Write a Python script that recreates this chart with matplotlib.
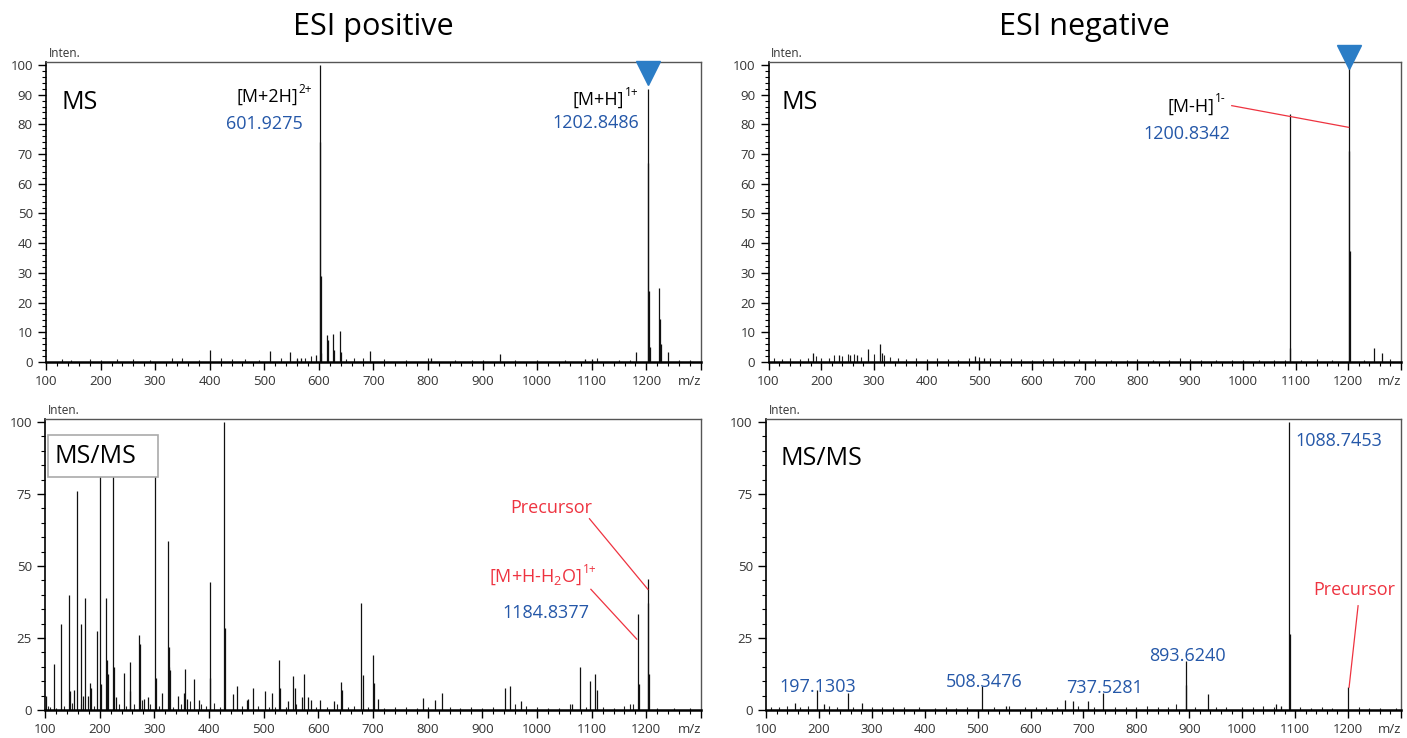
import numpy as np
import matplotlib.pyplot as plt
from matplotlib.ticker import MultipleLocator, FixedLocator
from matplotlib.patches import Rectangle

plt.rcParams['font.family'] = ['Open Sans', 'DejaVu Sans']
plt.rcParams['mathtext.fontset'] = 'custom'
plt.rcParams['mathtext.rm'] = 'Open Sans'
plt.rcParams['mathtext.default'] = 'regular'

BLUE = '#2457a8'
RED = '#ee3340'
TRI = '#2b7dc6'

# x axis ticks (last one carries the axis unit)
xticks = [100, 200, 300, 400, 500, 600, 700, 800, 900, 1000, 1100, 1200, 1300]
xtick_labels = ['100', '200', '300', '400', '500', '600', '700', '800', '900',
                '1000', '1100', '1200', 'm/z']

# ESI positive, MS
pos_ms_mz = [400, 511, 547, 560, 567, 594, 601.93, 602.43, 602.93, 603.4, 614, 617,
             625, 627, 638, 640, 693, 806, 932, 1088, 1100, 1181, 1202.85, 1203.85,
             1204.85, 1205.8, 1224, 1225, 1226, 1239]
pos_ms_int = [4, 3.6, 3.5, 1, 1.5, 2.5, 100, 74, 29, 3, 9, 7.5,
              9.5, 4, 10.4, 3.5, 3.6, 1.3, 2.6, 1, 1, 3.2, 92, 67,
              24, 5, 25, 14.5, 6, 3.5]
pos_ms_noise_mz = [130, 145, 180, 200, 230, 260, 290, 330, 350, 380, 420, 440, 465, 490,
                   530, 560, 575, 585, 650, 665, 680, 720, 760, 800, 850, 880, 900, 960,
                   1000, 1050, 1110, 1150, 1170, 1260, 1280]
pos_ms_noise_int = [1, 0.8, 1, 0.8, 1, 1, 0.8, 1.2, 1.3, 0.8, 1.5, 1, 1, 0.8,
                    1.2, 1.5, 1.2, 2, 1, 1.5, 1.2, 1, 0.6, 1.3, 0.7, 0.8, 0.6, 0.8,
                    0.6, 0.7, 1.2, 0.7, 0.8, 0.8, 0.6]

# ESI negative, MS
neg_ms_mz = [184, 234, 255, 267, 289, 312, 316, 492, 509, 1088.75, 1089.75,
             1200.83, 1201.83, 1202.84, 1248, 1264]
neg_ms_int = [3, 2.5, 2.5, 2.5, 4.5, 6.2, 3, 2, 1.5, 83.5, 4.8,
              100, 71, 37.5, 4.8, 3]
neg_ms_noise_mz = [110, 125, 140, 160, 175, 190, 200, 215, 225, 240, 250, 262, 275, 300,
                   320, 330, 345, 360, 380, 400, 420, 440, 460, 480, 500, 520, 540, 560,
                   580, 600, 620, 640, 660, 690, 720, 750, 780, 800, 830, 860, 880, 900,
                   920, 950, 980, 1000, 1030, 1060, 1080, 1110, 1140, 1170, 1230, 1280]
neg_ms_noise_int = [1.5, 1, 1.2, 1, 1.5, 2, 1.2, 1.5, 2.5, 2, 2.7, 2.8, 1.7, 2.8,
                    2.5, 1.8, 1.5, 1, 1.2, 1, 1.2, 1, 0.8, 1.5, 1.8, 1.4, 1, 1.2,
                    1, 0.8, 1, 1.2, 0.8, 0.9, 1, 0.8, 0.7, 0.9, 0.8, 0.8, 1.2, 1,
                    0.7, 0.8, 0.8, 0.8, 0.7, 0.8, 0.8, 0.8, 0.9, 0.7, 0.8, 0.9]

# ESI positive, MS/MS
pos_msms_mz = [101, 116, 128.8, 143, 145, 153, 158.3, 166.3, 169, 173.6, 178.5, 182, 185,
               195.7, 200, 202, 212.3, 214, 216, 225.2, 227, 229.5, 243.6, 254.6, 256,
               271.8, 273, 281.6, 288, 301.2, 302.5, 314, 325.2, 326.4, 327.6, 329.4,
               343.6, 354, 355.8, 358.9, 371.8, 381, 401, 402.5, 428.2, 430, 443.6, 452,
               468.7, 472, 481, 502.5, 514.7, 527.6, 530, 543.6, 553.4, 557, 570, 573,
               581, 586.5, 603.7, 628, 641.6, 643.6, 678.8, 681, 699.4, 701, 708.7, 792,
               812.6, 827, 942, 951, 970, 1064.7, 1079.5, 1097.5, 1106.6, 1109,
               1184.84, 1185.84, 1202.85, 1203.85, 1204.85]
pos_msms_int = [5, 16, 29.7, 40, 6.5, 7, 76, 30, 5, 39, 5, 9.5, 7.5,
                27.5, 90, 9, 39, 17.5, 12.5, 88, 15, 4.5, 13, 16.8, 6.5,
                26, 23, 4, 4.5, 85, 11, 6, 58.7, 22, 15, 14,
                4.7, 6, 14.4, 4, 10.7, 3.5, 11, 44.5, 100, 28.5, 5.5, 8.3,
                3.5, 4, 7.8, 6.5, 5.8, 17.3, 7.5, 3.2, 11.7, 7.8, 4.5, 12.5,
                4.5, 3.5, 3.4, 3.3, 9.8, 7, 37, 12, 19, 9.3, 4, 4.1,
                3.5, 5.8, 7.8, 8.2, 3, 2, 14.8, 10.2, 12.5, 6.8,
                33.4, 9, 45.6, 37.3, 12.5]
pos_msms_noise_mz = [105, 110, 120, 135, 150, 165, 190, 235, 248, 262, 277, 292, 308, 335,
                     348, 365, 385, 395, 410, 420, 460, 490, 510, 520, 540, 560, 595, 615,
                     635, 655, 665, 690, 720, 740, 760, 780, 800, 840, 860, 880, 900, 920,
                     960, 980, 1000, 1020, 1040, 1060, 1090, 1120, 1140, 1160, 1170, 1175,
                     1220, 1250, 1280]
pos_msms_noise_int = [1.5, 1, 0.8, 1.5, 2.5, 2, 1.5, 2, 1.5, 2, 3.5, 2, 1.5, 1.2,
                      2, 3, 2, 1.5, 2.5, 1, 1.5, 1.5, 1.2, 1, 1.2, 2, 1, 1,
                      2, 1, 1.5, 1.2, 0.8, 1, 1, 0.8, 1, 1.2, 0.8, 1, 0.8, 1,
                      2, 1.5, 1, 0.8, 0.8, 2, 1, 1, 0.8, 1.5, 2, 2,
                      0.8, 0.6, 0.7]

# ESI negative, MS/MS
neg_msms_mz = [155.6, 197.13, 209, 255.6, 281, 508.35, 553, 665.8, 680, 707.7, 737.53,
               893.62, 894.62, 935, 1064, 1072.6, 1088.75, 1089.75, 1200.83]
neg_msms_int = [2.5, 7, 2, 6, 2.5, 8.4, 1.5, 3.5, 3.2, 3, 6,
                17, 8.7, 5.4, 2, 1.5, 100, 26.5, 8]
neg_msms_noise_mz = [110, 125, 140, 165, 180, 220, 235, 265, 300, 320, 340, 360, 390, 420,
                     440, 460, 480, 530, 560, 590, 610, 630, 650, 690, 720, 760, 780, 800,
                     820, 840, 860, 875, 910, 950, 970, 1000, 1020, 1040, 1060, 1110, 1130,
                     1150, 1170, 1220, 1240, 1260, 1290]
neg_msms_noise_int = [1, 1, 1.5, 1.2, 1.5, 1.5, 1, 1.2, 1, 1, 1, 1, 1.2, 0.8,
                      1, 0.8, 1.2, 1, 1.5, 1, 1, 1.2, 1, 1.5, 1, 1, 1, 1.2,
                      1.5, 1, 1.2, 2, 1, 1, 1.2, 1, 1, 1.5, 1, 1, 0.8,
                      1, 0.8, 1, 0.8, 0.8, 0.7]


def style(ax, ymajor, yminor):
    ax.set_xlim(100, 1300)
    ax.set_ylim(0, 101)
    ax.xaxis.set_major_locator(FixedLocator(xticks))
    ax.set_xticklabels(xtick_labels)
    ax.get_xticklabels()[-1].set_ha('right')
    ax.xaxis.set_minor_locator(MultipleLocator(20))
    ax.yaxis.set_major_locator(MultipleLocator(ymajor))
    ax.yaxis.set_minor_locator(MultipleLocator(yminor))
    ax.tick_params(which='major', length=6, width=1, labelsize=9.5,
                   labelcolor='#333333', direction='out')
    ax.tick_params(which='minor', length=3, width=0.8, direction='out')
    ax.spines['left'].set_linewidth(1.2)
    ax.spines['bottom'].set_linewidth(1.8)
    for s in ['top', 'right']:
        ax.spines[s].set_color('#555555')
        ax.spines[s].set_linewidth(1)
    ax.text(0.004, 1.006, 'Inten.', transform=ax.transAxes, fontsize=8.5,
            va='bottom', ha='left', color='#333333')


def spectrum(ax, mz, inten, noise_mz, noise_int):
    ax.vlines(noise_mz, 0, noise_int, colors='#222222', lw=0.8)
    ax.vlines(mz, 0, inten, colors='#111111', lw=0.9)


def ion_label(ax, x, y, main, sup, color='black'):
    # main text ends at x, the charge state sits as a small superscript after it
    ax.text(x, y, main, fontsize=13, ha='right', va='center', color=color)
    ax.annotate(sup, (x, y), xytext=(0.5, 5.5), textcoords='offset points',
                fontsize=8.5, ha='left', va='center', color=color)


fig = plt.figure(figsize=(14.07, 7.38), dpi=100)
ax_pm = fig.add_axes([0.0327, 0.5095, 0.4655, 0.4065])
ax_nm = fig.add_axes([0.5462, 0.5095, 0.4495, 0.4065])
ax_pmm = fig.add_axes([0.0320, 0.0379, 0.4662, 0.3943])
ax_nmm = fig.add_axes([0.5444, 0.0379, 0.4513, 0.3943])

fig.text(0.265, 0.963, 'ESI positive', ha='center', va='center', fontsize=22)
fig.text(0.771, 0.963, 'ESI negative', ha='center', va='center', fontsize=22)

# --- ESI positive MS
spectrum(ax_pm, pos_ms_mz, pos_ms_int, pos_ms_noise_mz, pos_ms_noise_int)
style(ax_pm, 10, 2)
ax_pm.text(129, 87.3, 'MS', fontsize=18, va='center', ha='left')
ion_label(ax_pm, 562, 89.3, '[M+2H]', '2+')
ax_pm.text(571, 80, '601.9275', fontsize=13, va='center', ha='right', color=BLUE)
ion_label(ax_pm, 1159, 88.3, '[M+H]', '1+')
ax_pm.text(1187, 80.3, '1202.8486', fontsize=13, va='center', ha='right', color=BLUE)
ax_pm.plot(1202.85, 97.3, marker='v', ms=17.5, color=TRI, clip_on=False, zorder=5)

# --- ESI negative MS
spectrum(ax_nm, neg_ms_mz, neg_ms_int, neg_ms_noise_mz, neg_ms_noise_int)
style(ax_nm, 10, 2)
ax_nm.text(125.6, 87.3, 'MS', fontsize=18, va='center', ha='left')
ion_label(ax_nm, 946, 86, '[M-H]', '1-')
ax_nm.text(977, 76.7, '1200.8342', fontsize=13, va='center', ha='right', color=BLUE)
ax_nm.plot([979, 1200.83], [86.3, 79], color=RED, lw=0.9)
ax_nm.plot(1200.83, 102.7, marker='v', ms=17.5, color=TRI, clip_on=False, zorder=5)

# --- ESI positive MS/MS
spectrum(ax_pmm, pos_msms_mz, pos_msms_int, pos_msms_noise_mz, pos_msms_noise_int)
style(ax_pmm, 25, 5)
ax_pmm.add_patch(Rectangle((105.5, 81), 200.5, 14.5, facecolor='white',
                           edgecolor='#aaaaaa', lw=1.2, zorder=4))
ax_pmm.text(117, 88, 'MS/MS', fontsize=18, va='center', ha='left', zorder=5)
ax_pmm.text(1026, 70.2, 'Precursor', fontsize=13, va='center', ha='center', color=RED)
ax_pmm.plot([1096, 1202.85], [66.4, 41.9], color=RED, lw=0.9)
ion_label(ax_pmm, 1083, 46, '[M+H-H$_2$O]', '1+', color=RED)
ax_pmm.plot([1098.6, 1182.6], [41.9, 24.6], color=RED, lw=0.9)
ax_pmm.text(1096, 33.6, '1184.8377', fontsize=13, va='center', ha='right', color=BLUE)

# --- ESI negative MS/MS
spectrum(ax_nmm, neg_msms_mz, neg_msms_int, neg_msms_noise_mz, neg_msms_noise_int)
style(ax_nmm, 25, 5)
ax_nmm.text(126.6, 87.2, 'MS/MS', fontsize=18, va='center', ha='left')
ax_nmm.text(1100, 93.4, '1088.7453', fontsize=13, va='center', ha='left', color=BLUE)
ax_nmm.text(1212, 41.7, 'Precursor', fontsize=13, va='center', ha='center', color=RED)
ax_nmm.plot([1219, 1202], [36.2, 7.9], color=RED, lw=0.9)
ax_nmm.text(198.7, 7.9, '197.1303', fontsize=13, va='center', ha='center', color=BLUE)
ax_nmm.text(511.8, 9.7, '508.3476', fontsize=13, va='center', ha='center', color=BLUE)
ax_nmm.text(739.5, 7.6, '737.5281', fontsize=13, va='center', ha='center', color=BLUE)
ax_nmm.text(897, 18.6, '893.6240', fontsize=13, va='center', ha='center', color=BLUE)

fig.savefig('out.png', dpi=100)
